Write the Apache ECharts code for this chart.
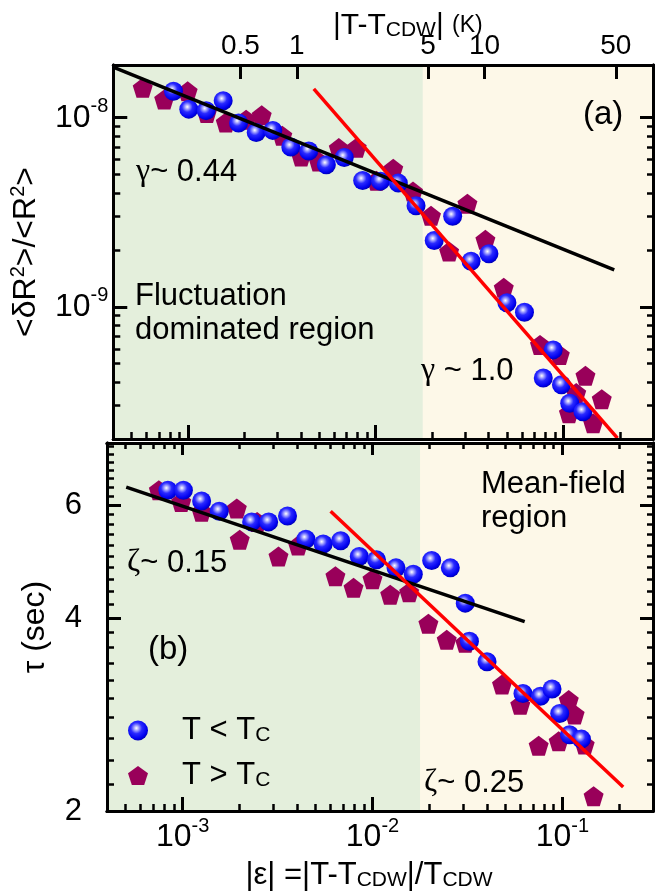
<!DOCTYPE html>
<html>
<head>
<meta charset="utf-8">
<title>Noise and relaxation time vs reduced temperature</title>
<script src="https://cdn.jsdelivr.net/npm/echarts@6/dist/echarts.min.js"></script>
<style>
  html, body { margin: 0; padding: 0; background: #fff; }
  #chart { width: 664px; height: 892px; }
</style>
</head>
<body>
<div id="chart"></div>
<script>
// values
var T_CDW = 263; // K, converts |eps| to |T - T_CDW| on the top axis
var REGION_SPLIT = 0.0178; // |eps| where the shading changes

// (a) normalised noise <dR^2>/<R^2>
var noiseBelowEps = [8.37e-4, 1.01e-3, 1.25e-3, 1.54e-3, 1.86e-3, 2.31e-3, 2.83e-3, 3.53e-3, 4.40e-3, 5.46e-3,
  6.80e-3, 8.52e-3, 1.06e-2, 1.32e-2, 1.64e-2, 2.05e-2, 2.57e-2, 3.22e-2, 4.01e-2, 5.00e-2,
  6.20e-2, 7.81e-2, 8.82e-2, 9.76e-2, 0.108, 0.127];
var noiseBelow = [1.38e-8, 1.11e-8, 1.09e-8, 1.23e-8, 9.37e-9, 8.36e-9, 8.57e-9, 7.0e-9, 6.67e-9, 5.64e-9,
  6.16e-9, 4.66e-9, 4.62e-9, 4.51e-9, 3.42e-9, 2.24e-9, 3.01e-9, 1.74e-9, 1.91e-9, 1.05e-9,
  9.37e-10, 4.20e-10, 5.92e-10, 3.87e-10, 3.09e-10, 2.79e-10];
var noiseAboveEps = [5.74e-4, 7.47e-4, 9.96e-4, 1.26e-3, 1.59e-3, 2.04e-3, 2.47e-3, 3.18e-3, 4.01e-3, 4.97e-3,
  6.36e-3, 7.92e-3, 1.01e-2, 1.24e-2, 1.58e-2, 1.97e-2, 2.46e-2, 3.08e-2, 3.84e-2, 4.81e-2,
  7.50e-2, 9.56e-2, 0.107, 0.117, 0.131, 0.144, 0.160];
var noiseAbove = [1.44e-8, 1.25e-8, 1.38e-8, 1.06e-8, 9.44e-9, 9.76e-9, 1.03e-8, 8.03e-9, 6.24e-9, 5.87e-9,
  6.91e-9, 6.94e-9, 4.64e-9, 5.37e-9, 4.07e-9, 3.03e-9, 1.96e-9, 3.51e-9, 2.26e-9, 1.26e-9,
  6.29e-10, 5.57e-10, 2.74e-10, 3.50e-10, 4.32e-10, 2.42e-10, 3.25e-10];

// (b) relaxation time tau (sec)
var tauBelowEps = [8.37e-4, 1.01e-3, 1.26e-3, 1.56e-3, 2.31e-3, 2.84e-3, 3.57e-3, 4.46e-3, 5.50e-3, 6.80e-3,
  8.52e-3, 1.05e-2, 1.33e-2, 1.64e-2, 2.05e-2, 2.57e-2, 3.08e-2, 3.24e-2, 4.01e-2, 6.20e-2,
  7.66e-2, 8.82e-2, 9.68e-2, 0.109, 0.126];
var tauBelow = [6.33, 6.33, 6.09, 5.87, 5.65, 5.65, 5.77, 5.31, 5.22, 5.28,
  4.99, 4.93, 4.79, 4.68, 4.92, 4.79, 4.22, 3.68, 3.42, 3.05,
  3.02, 3.10, 2.84, 2.63, 2.59];
var tauAboveEps = [7.50e-4, 9.84e-4, 1.26e-3, 1.93e-3, 2.00e-3, 2.47e-3, 3.20e-3, 4.06e-3, 6.38e-3, 7.95e-3,
  1.00e-2, 1.24e-2, 1.56e-2, 1.97e-2, 2.46e-2, 3.08e-2, 4.81e-2, 6.00e-2, 7.50e-2, 9.56e-2,
  0.108, 0.116, 0.131, 0.146];
var tauAbove = [6.33, 6.07, 5.86, 5.93, 5.30, 5.65, 4.99, 5.19, 4.65, 4.46,
  4.60, 4.35, 4.39, 3.92, 3.70, 3.66, 3.15, 2.93, 2.53, 2.57,
  2.98, 2.83, 2.54, 2.11];

// power-law guide lines (end points)
var fitNoiseFlucEps = [4.0e-4, 0.1865];
var fitNoiseFluc = [1.85e-8, 1.57e-9];
var fitNoiseMfEps = [4.68e-3, 0.194];
var fitNoiseMf = [1.42e-8, 2.02e-10];
var fitTauFlucEps = [5.05e-4, 6.33e-2];
var fitTauFluc = [6.40, 3.95];
var fitTauMfEps = [6.02e-3, 0.209];
var fitTauMf = [5.87, 2.18];

// tick values
var epsMajor = [1e-3, 1e-2, 1e-1];
var noiseMajor = [1e-9, 1e-8];
var tauMajor = [2, 4, 6];
var kelvinTicks = [0.5, 1, 5, 10, 50];

var EPS_MIN = 4e-4, EPS_MAX = 0.3;
var NOISE_MIN = 2e-10, NOISE_MAX = 1.9e-8;
var TAU_MIN = 2, TAU_MAX = 7.5;

var FONT = '"Liberation Sans", Arial, sans-serif';
var SERIF = '"Liberation Serif", "DejaVu Serif", serif';
var GREEN = '#e4efdc';
var CREAM = '#fdf8e8';
var MAROON = '#99005a';
var PENTAGON = 'path://M0,-1L0.951,-0.309L0.588,0.809L-0.588,0.809L-0.951,-0.309Z';
var BALL = {
  type: 'radial', x: 0.42, y: 0.38, r: 0.62,
  colorStops: [
    {offset: 0, color: '#ffffff'},
    {offset: 0.2, color: '#a0a0ff'},
    {offset: 0.45, color: '#2a2aff'},
    {offset: 0.85, color: '#0000ee'},
    {offset: 1, color: '#0000b8'}
  ]
};

function logMinors(lo, hi) {
  var out = [];
  for (var d = Math.floor(Math.log10(lo)); d <= Math.ceil(Math.log10(hi)); d++) {
    for (var k = 2; k <= 9; k++) {
      var v = k * Math.pow(10, d);
      if (v > lo && v < hi) out.push(v);
    }
  }
  return out;
}
var epsMinor = logMinors(EPS_MIN, EPS_MAX);
var noiseMinor = logMinors(NOISE_MIN, NOISE_MAX);
var tauMinor = [];
for (var t = 22; t < 75; t += 2) {
  if (t !== 40 && t !== 60) tauMinor.push(t / 10);
}

function pairs(xs, ys) {
  return xs.map(function (x, i) { return [x, ys[i]]; });
}

// one side of a panel frame: line plus inward ticks
function frameAxis(grid, pos, min, max, ticks, len) {
  return {
    type: 'log', logBase: 10,
    gridIndex: grid, position: pos,
    min: min, max: max,
    z: 10,
    axisLine: {show: true, onZero: false, lineStyle: {color: '#000', width: 3}},
    axisTick: {show: true, inside: true, length: len, customValues: ticks,
      lineStyle: {color: '#000', width: len > 9 ? 3 : 2.5}},
    axisLabel: {show: false},
    splitLine: {show: false},
    minorTick: {show: false},
    minorSplitLine: {show: false}
  };
}

function powLabel(v) {
  return '10{p|' + Math.round(Math.log10(v)) + '}';
}
var powRich = {p: {fontSize: 20, fontFamily: FONT, verticalAlign: 'top', lineHeight: 20}};

// x axes
var xEpsA = frameAxis(0, 'bottom', EPS_MIN, EPS_MAX, epsMajor, 14);
var xEpsAMinor = frameAxis(0, 'bottom', EPS_MIN, EPS_MAX, epsMinor, 7);
var xKelvin = frameAxis(0, 'top', EPS_MIN * T_CDW, EPS_MAX * T_CDW, kelvinTicks, 14);
xKelvin.axisLabel = {
  show: true, customValues: kelvinTicks, margin: 5,
  fontSize: 28, fontFamily: FONT, color: '#000',
  formatter: function (v) { return String(+v.toPrecision(3)); }
};
var xEpsB = frameAxis(1, 'bottom', EPS_MIN, EPS_MAX, epsMajor, 14);
xEpsB.axisLabel = {
  show: true, customValues: epsMajor, margin: 5,
  fontSize: 32, fontFamily: FONT, color: '#000', lineHeight: 42,
  formatter: powLabel, rich: powRich
};
xEpsB.name = '|ε| =|T-T{s|CDW}|/T{s|CDW}';
xEpsB.nameLocation = 'middle';
xEpsB.nameGap = 36;
xEpsB.nameTextStyle = {
  fontSize: 31, fontFamily: FONT, color: '#000', lineHeight: 32,
  padding: [0, 22, 0, 0],
  rich: {s: {fontSize: 21, fontFamily: FONT, verticalAlign: 'bottom', lineHeight: 14}}
};
var xEpsBMinor = frameAxis(1, 'bottom', EPS_MIN, EPS_MAX, epsMinor, 7);
var xEpsBTop = frameAxis(1, 'top', EPS_MIN, EPS_MAX, epsMajor, 12);
var xEpsBTopMinor = frameAxis(1, 'top', EPS_MIN, EPS_MAX, epsMinor, 6);

// y axes
var yNoise = frameAxis(0, 'left', NOISE_MIN, NOISE_MAX, noiseMajor, 14);
yNoise.axisLabel = {
  show: true, customValues: noiseMajor, margin: 5,
  fontSize: 32, fontFamily: FONT, color: '#000', lineHeight: 42,
  formatter: powLabel, rich: powRich
};
yNoise.name = '<δR{p|2}>/<R{p|2}>';
yNoise.nameLocation = 'middle';
yNoise.nameGap = 62;
yNoise.nameTextStyle = {
  fontSize: 32, fontFamily: FONT, color: '#000', lineHeight: 36,
  rich: {p: {fontSize: 20, fontFamily: FONT, verticalAlign: 'top', lineHeight: 16}}
};
var yNoiseMinor = frameAxis(0, 'left', NOISE_MIN, NOISE_MAX, noiseMinor, 7);
var yNoiseR = frameAxis(0, 'right', NOISE_MIN, NOISE_MAX, noiseMajor, 13);
var yNoiseRMinor = frameAxis(0, 'right', NOISE_MIN, NOISE_MAX, noiseMinor, 6);

var yTau = frameAxis(1, 'left', TAU_MIN, TAU_MAX, tauMajor, 14);
yTau.axisLabel = {
  show: true, customValues: tauMajor, margin: 25,
  fontSize: 31, fontFamily: FONT, color: '#000',
  formatter: function (v) { return String(Math.round(v)); }
};
yTau.name = 'τ (sec)';
yTau.nameLocation = 'middle';
yTau.nameGap = 56;
yTau.nameTextStyle = {fontSize: 32, fontFamily: FONT, color: '#000'};
var yTauMinor = frameAxis(1, 'left', TAU_MIN, TAU_MAX, tauMinor, 7);
var yTauR = frameAxis(1, 'right', TAU_MIN, TAU_MAX, tauMajor, 13);
var yTauRMinor = frameAxis(1, 'right', TAU_MIN, TAU_MAX, tauMinor, 6);

function scatter(name, xAxis, yAxis, xs, ys, above) {
  return {
    name: name, type: 'scatter',
    xAxisIndex: xAxis, yAxisIndex: yAxis,
    symbol: above ? PENTAGON : 'circle',
    symbolSize: above ? 20 : 19,
    itemStyle: {color: above ? MAROON : BALL, opacity: 1},
    z: above ? 3 : 4,
    silent: true,
    data: pairs(xs, ys)
  };
}

function guide(xAxis, yAxis, xs, ys, color) {
  return {
    type: 'line', xAxisIndex: xAxis, yAxisIndex: yAxis,
    symbol: 'none', silent: true, z: 6,
    lineStyle: {color: color, width: 3.5},
    data: pairs(xs, ys)
  };
}

var flucBand = {
  silent: true,
  itemStyle: {color: GREEN},
  data: [[{xAxis: EPS_MIN}, {xAxis: REGION_SPLIT}]]
};

var seriesList = [
  scatter('T > T_C', 0, 0, noiseAboveEps, noiseAbove, true),
  scatter('T < T_C', 0, 0, noiseBelowEps, noiseBelow, false),
  guide(0, 0, fitNoiseFlucEps, fitNoiseFluc, '#000'),
  guide(0, 0, fitNoiseMfEps, fitNoiseMf, '#ff0000'),
  scatter('T > T_C', 3, 4, tauAboveEps, tauAbove, true),
  scatter('T < T_C', 3, 4, tauBelowEps, tauBelow, false),
  guide(3, 4, fitTauFlucEps, fitTauFluc, '#000'),
  guide(3, 4, fitTauMfEps, fitTauMf, '#ff0000')
];
seriesList[0].markArea = flucBand;
seriesList[4].markArea = flucBand;

function note(x, y, text, size) {
  return {
    type: 'text', x: x, y: y, silent: true, z: 20,
    style: {
      text: text, fill: '#000', fontSize: size, fontFamily: FONT,
      align: 'left', verticalAlign: 'middle',
      rich: {
        g: {fontSize: size + 1, fontFamily: SERIF, fill: '#000'},
        s: {fontSize: 21, fontFamily: FONT, fill: '#000', verticalAlign: 'bottom', lineHeight: 12},
        k: {fontSize: 23, fontFamily: FONT, fill: '#000'}
      }
    }
  };
}

var option = {
  backgroundColor: '#fff',
  animation: false,
  grid: [
    {left: 107, right: 11, top: 65, height: 374, show: true, backgroundColor: CREAM, borderWidth: 0},
    {left: 107, right: 11, top: 443, height: 371, show: true, backgroundColor: CREAM, borderWidth: 0}
  ],
  xAxis: [xEpsA, xEpsAMinor, xKelvin, xEpsB, xEpsBMinor, xEpsBTop, xEpsBTopMinor],
  yAxis: [yNoise, yNoiseMinor, yNoiseR, yNoiseRMinor, yTau, yTauMinor, yTauR, yTauRMinor],
  legend: {
    data: ['T < T_C', 'T > T_C'],
    orient: 'vertical', left: 123, top: 710,
    itemWidth: 20, itemHeight: 20, itemGap: 14,
    selectedMode: false,
    formatter: function (name) { return '{gap| }' + name.replace('_C', '{s|C}'); },
    textStyle: {
      fontSize: 31, fontFamily: FONT, color: '#000', lineHeight: 30,
      rich: {
        gap: {width: 29},
        s: {fontSize: 21, fontFamily: FONT, verticalAlign: 'bottom', lineHeight: 12}
      }
    }
  },
  graphic: [
    note(333, 26, '|T-T{s|CDW}| {k|(K)}', 30),
    note(583, 115, '(a)', 33),
    note(136, 172, '{g|γ}~ 0.44', 31),
    note(135, 296, 'Fluctuation', 31),
    note(135, 330, 'dominated region', 31),
    note(421, 371, '{g|γ} ~ 1.0', 31),
    note(481, 484, 'Mean-field', 31),
    note(481, 518, 'region', 31),
    note(127, 563, '{g|ζ}~ 0.15', 31),
    note(148, 650, '(b)', 33),
    note(424, 783, '{g|ζ}~ 0.25', 31)
  ],
  series: seriesList
};

var chart = echarts.init(document.getElementById('chart'));
chart.setOption(option);
window.addEventListener('resize', function () { chart.resize(); });
</script>
</body>
</html>
